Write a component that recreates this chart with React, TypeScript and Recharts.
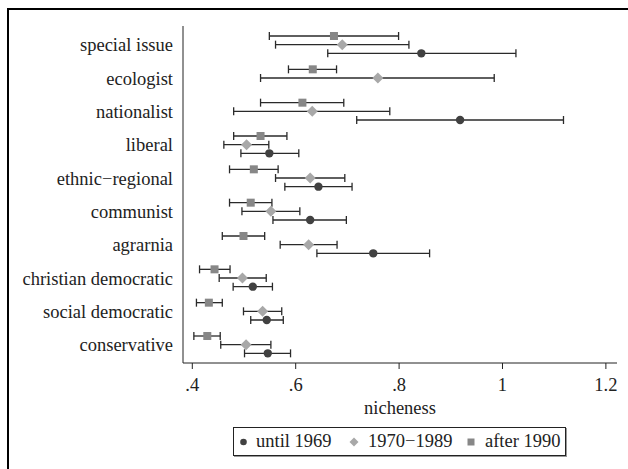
import React from "react";
import { ScatterChart, Scatter, XAxis, YAxis, ErrorBar } from "recharts";

const categories = [
  "special issue",
  "ecologist",
  "nationalist",
  "liberal",
  "ethnic\u2212regional",
  "communist",
  "agrarnia",
  "christian democratic",
  "social democratic",
  "conservative",
];

// until 1969 (no estimate for ecologist)
const until1969Mean = [0.843, null, 0.918, 0.549, 0.644, 0.628, 0.75, 0.517, 0.544, 0.546];
const until1969Low = [0.662, null, 0.718, 0.494, 0.579, 0.556, 0.641, 0.479, 0.513, 0.501];
const until1969High = [1.026, null, 1.118, 0.606, 0.709, 0.698, 0.859, 0.555, 0.576, 0.59];

// 1970-1989
const mid1970Mean = [0.69, 0.759, 0.632, 0.505, 0.628, 0.552, 0.625, 0.497, 0.536, 0.504];
const mid1970Low = [0.561, 0.532, 0.48, 0.461, 0.561, 0.496, 0.57, 0.452, 0.499, 0.455];
const mid1970High = [0.819, 0.984, 0.782, 0.548, 0.695, 0.608, 0.68, 0.543, 0.573, 0.552];

// after 1990
const after1990Mean = [0.674, 0.633, 0.613, 0.532, 0.519, 0.513, 0.499, 0.443, 0.432, 0.429];
const after1990Low = [0.549, 0.586, 0.532, 0.48, 0.472, 0.472, 0.458, 0.414, 0.408, 0.403];
const after1990High = [0.799, 0.679, 0.693, 0.583, 0.566, 0.554, 0.54, 0.473, 0.458, 0.454];

const xTicks = [0.4, 0.6, 0.8, 1, 1.2];

const FONT = '"Liberation Serif", "Times New Roman", serif';
const FS = 18.5;
const C_CIRCLE = "#414141";
const C_DIAMOND = "#a8a8a8";
const C_SQUARE = "#878787";

type Row = { x: number; y: number; err: [number, number] };

// y is the category row, shifted a little per series so the bars don't overlap
function buildRows(mean: (number | null)[], low: (number | null)[], high: (number | null)[], shift: number): Row[] {
  const out: Row[] = [];
  mean.forEach((m, i) => {
    if (m == null) return;
    out.push({ x: m, y: i + 1 + shift, err: [m - (low[i] as number), (high[i] as number) - m] });
  });
  return out;
}

const circleData = buildRows(until1969Mean, until1969Low, until1969High, 0.26);
const diamondData = buildRows(mid1970Mean, mid1970Low, mid1970High, 0);
const squareData = buildRows(after1990Mean, after1990Low, after1990High, -0.26);

const CircleDot = (p: any) => <circle cx={p.cx} cy={p.cy} r={4.2} fill={C_CIRCLE} />;
const DiamondDot = (p: any) => (
  <polygon
    points={`${p.cx},${p.cy - 5.5} ${p.cx + 5.5},${p.cy} ${p.cx},${p.cy + 5.5} ${p.cx - 5.5},${p.cy}`}
    fill={C_DIAMOND}
  />
);
const SquareDot = (p: any) => <rect x={p.cx - 4} y={p.cy - 4} width={8} height={8} fill={C_SQUARE} />;

const fmtX = (v: number) => (v === 1 ? "1" : String(v).replace(/^0/, ""));

const LegendBox = () => (
  <div
    style={{
      position: "absolute",
      left: 233,
      top: 427,
      width: 333,
      height: 29,
      border: "1px solid #222",
      boxShadow: "1px 1px 0 #999",
      boxSizing: "border-box",
      fontFamily: FONT,
      fontSize: FS,
      lineHeight: "27px",
      color: "#222",
    }}
  >
    <svg width={30} height={27} style={{ position: "absolute", left: 0, top: 0 }}>
      <circle cx={9.5} cy={14} r={3.3} fill={C_CIRCLE} />
    </svg>
    <span style={{ position: "absolute", left: 22, top: 0 }}>until 1969</span>
    <svg width={30} height={27} style={{ position: "absolute", left: 110, top: 0 }}>
      <polygon points="10,9.5 14.5,14 10,18.5 5.5,14" fill={C_DIAMOND} />
    </svg>
    <span style={{ position: "absolute", left: 134, top: 0 }}>1970{"\u2212"}1989</span>
    <svg width={30} height={27} style={{ position: "absolute", left: 227, top: 0 }}>
      <rect x={6.5} y={10.5} width={7} height={7} fill={C_SQUARE} />
    </svg>
    <span style={{ position: "absolute", left: 251, top: 0 }}>after 1990</span>
  </div>
);

export default function App() {
  const yDomain: [number, number] = [0.44, 10.55];
  const xDomain: [number, number] = [0.382, 1.2215];
  const tickStyle = { fill: "#222", fontSize: FS, fontFamily: FONT };
  return (
    <div style={{ position: "absolute", left: 0, top: 0, width: 628, height: 469, overflow: "hidden", background: "#fff" }}>
      <div
        style={{
          position: "absolute",
          left: 7,
          top: 8,
          width: 700,
          height: 600,
          border: "2px solid #000",
        }}
      />
      <div style={{ position: "absolute", left: 0, top: 0, fontFamily: FONT }}>
        <ScatterChart width={628} height={469} margin={{ top: 26, right: 11, bottom: 53, left: 3 }}>
          <XAxis
            type="number"
            dataKey="x"
            domain={xDomain}
            allowDataOverflow
            ticks={xTicks}
            tickFormatter={fmtX}
            tickSize={6}
            tickMargin={9}
            height={53}
            stroke="#222"
            tick={tickStyle}
            label={{ value: "nicheness", position: "insideBottom", offset: 2, ...tickStyle }}
          />
          <XAxis xAxisId="top" orientation="top" type="number" domain={xDomain} tick={false} tickLine={false} height={0} stroke="#222" />
          <YAxis
            type="number"
            dataKey="y"
            domain={yDomain}
            allowDataOverflow
            reversed
            ticks={[1, 2, 3, 4, 5, 6, 7, 8, 9, 10]}
            tickFormatter={(v: number) => categories[v - 1]}
            tickLine={false}
            tickSize={0}
            tickMargin={10}
            width={180}
            stroke="#222"
            tick={tickStyle}
          />
          <YAxis yAxisId="right" orientation="right" type="number" domain={yDomain} tick={false} tickLine={false} width={0} stroke="#222" />
          <Scatter name="after 1990" data={squareData} shape={SquareDot} isAnimationActive={false}>
            <ErrorBar dataKey="err" direction="x" width={4} stroke="#2a2a2a" strokeWidth={1.3} />
          </Scatter>
          <Scatter name="1970-1989" data={diamondData} shape={DiamondDot} isAnimationActive={false}>
            <ErrorBar dataKey="err" direction="x" width={4} stroke="#2a2a2a" strokeWidth={1.3} />
          </Scatter>
          <Scatter name="until 1969" data={circleData} shape={CircleDot} isAnimationActive={false}>
            <ErrorBar dataKey="err" direction="x" width={4} stroke="#2a2a2a" strokeWidth={1.3} />
          </Scatter>
        </ScatterChart>
      </div>
      <LegendBox />
    </div>
  );
}
